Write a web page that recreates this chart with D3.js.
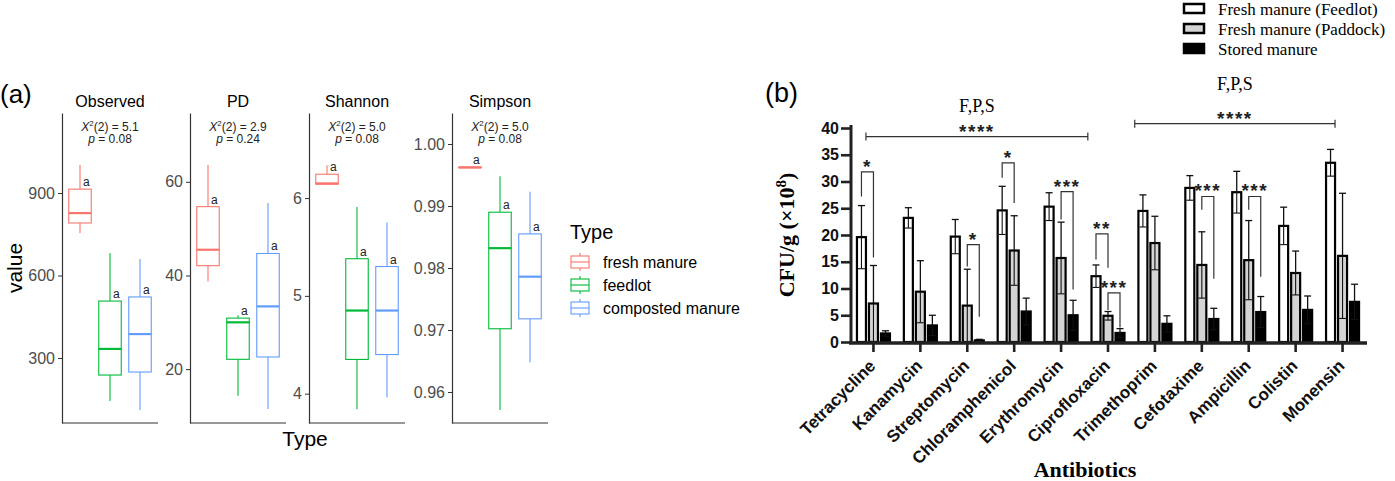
<!DOCTYPE html>
<html>
<head>
<meta charset="utf-8">
<script src="https://cdn.jsdelivr.net/npm/d3@7"></script>
<style>
  body { margin: 0; background: #fff; }
  svg { display: block; }
</style>
</head>
<body>
<div id="chart"></div>
<script>
// ---------- panel (a) data ----------
var types = ["fresh manure", "feedlot", "composted manure"];
var typeColors = ["#F8766D", "#00BA38", "#619CFF"];
var metrics = ["Observed", "PD", "Shannon", "Simpson"];

// [lower whisker, q1, median, q3, upper whisker] for each type
var observedStats = [[755, 791, 827, 914, 1002], [144, 238, 333, 507, 682], [111, 249, 387, 522, 660]];
var pdStats = [[38.7, 42.1, 45.5, 54.7, 63.6], [14.3, 22.1, 30.0, 30.9, 31.5], [11.5, 22.6, 33.4, 44.7, 55.5]];
var shannonStats = [[6.142, 6.142, 6.15, 6.244, 6.336], [3.84, 4.35, 4.85, 5.38, 5.91], [3.96, 4.40, 4.85, 5.30, 5.75]];
var simpsonStats = [[0.9962, 0.9962, 0.9962, 0.9963, 0.9963], [0.9571, 0.9702, 0.9832, 0.9890, 0.9948], [0.9648, 0.9718, 0.9786, 0.9855, 0.9923]];

var chiValues = ["5.1", "2.9", "5.0", "5.0"];
var pValues = ["0.08", "0.24", "0.08", "0.08"];
var groupLetters = ["a", "a", "a"];

var observedTicks = [300, 600, 900];
var pdTicks = [20, 40, 60];
var shannonTicks = [4, 5, 6];
var simpsonTicks = [0.96, 0.97, 0.98, 0.99, 1.00];

// ---------- panel (b) data ----------
var antibiotics = ["Tetracycline", "Kanamycin", "Streptomycin", "Chloramphenicol", "Erythromycin",
  "Ciprofloxacin", "Trimethoprim", "Cefotaxime", "Ampicillin", "Colistin", "Monensin"];
var seriesNames = ["Fresh manure (Feedlot)", "Fresh manure (Paddock)", "Stored manure"];
var seriesFills = ["#ffffff", "#d4d4d4", "#000000"];

var feedlotMean = [19.6, 23.2, 19.7, 24.6, 25.3, 12.3, 24.5, 28.8, 28.0, 21.7, 33.5];
var feedlotSd   = [5.9, 1.9, 3.2, 4.5, 2.6, 2.1, 3.0, 2.3, 3.9, 3.5, 2.5];
var paddockMean = [7.2, 9.4, 6.8, 17.1, 15.7, 4.9, 18.5, 14.4, 15.3, 12.9, 16.1];
var paddockSd   = [7.1, 5.8, 6.8, 6.5, 6.7, 0.8, 5.0, 6.2, 7.4, 4.1, 11.7];
var storedMean  = [1.6, 3.1, 0.3, 5.7, 5.0, 1.7, 3.4, 4.3, 5.6, 6.0, 7.5];
var storedSd    = [0.5, 1.9, 0.2, 2.5, 2.8, 0.8, 1.5, 2.0, 2.9, 2.6, 3.3];

var bTicks = [0, 5, 10, 15, 20, 25, 30, 35, 40];

// pairwise brackets: category, left series, right series, top value, left leg end, right leg end, label
var pairBrackets = [
  ["Tetracycline", 0, 1, 31.8, 27.2, 15.8, "*"],
  ["Streptomycin", 1, 2, 18.2, 14.1, 4.7, "*"],
  ["Chloramphenicol", 0, 1, 33.5, 30.7, 26.0, "*"],
  ["Erythromycin", 1, 2, 28.1, 22.9, 9.8, "***"],
  ["Ciprofloxacin", 0, 1, 20.2, 15.4, 13.9, "**"],
  ["Ciprofloxacin", 1, 2, 9.2, 6.0, 2.7, "***"],
  ["Cefotaxime", 1, 2, 27.2, 24.7, 11.8, "***"],
  ["Ampicillin", 1, 2, 27.2, 24.7, 12.2, "***"]
];
// long brackets over groups of antibiotics
var groupBrackets = [
  ["Tetracycline", "Ciprofloxacin", 38.4, "****", "F,P,S"],
  ["Trimethoprim", "Monensin", 40.8, "****", "F,P,S"]
];

var svg = d3.select("#chart").append("svg")
  .attr("width", 1395)
  .attr("height", 481)
  .style("font-family", "'Liberation Sans', Arial, sans-serif");

// =================== panel (a) ===================
var facetStats = [observedStats, pdStats, shannonStats, simpsonStats];
var facetTicks = [observedTicks, pdTicks, shannonTicks, simpsonTicks];
var facetDomains = [[63.6, 1191], [8.5, 74.7], [3.70, 6.87], [0.955, 1.005]];
var facetLeft = [62, 190, 309, 452];
var facetW = 96, facetTop = 113, facetBottom = 423;

svg.append("text")
  .attr("x", 0).attr("y", 103)
  .style("font-size", "26px")
  .text("(a)");

svg.append("text")
  .attr("transform", "translate(22, 268) rotate(-90)")
  .attr("text-anchor", "middle")
  .style("font-size", "21px")
  .text("value");

svg.append("text")
  .attr("x", 305).attr("y", 446)
  .attr("text-anchor", "middle")
  .style("font-size", "21px")
  .text("Type");

metrics.forEach(function(m, i) {
  var g = svg.append("g").attr("transform", `translate(${facetLeft[i]},0)`);

  var x = d3.scalePoint().domain(types).range([0, facetW]).padding(0.6);
  var y = d3.scaleLinear().domain(facetDomains[i]).range([facetBottom, facetTop]);
  var boxW = x.step() * 0.75;

  var yAxis = d3.axisLeft(y)
    .tickValues(facetTicks[i])
    .tickSize(4)
    .tickSizeOuter(0)
    .tickPadding(3)
    .tickFormat(i == 3 ? d3.format(".2f") : d3.format("d"));

  var ax = g.append("g").call(yAxis);
  ax.select(".domain").attr("stroke", "#333").attr("stroke-width", 1.2);
  ax.selectAll(".tick line").attr("stroke", "#333");
  ax.selectAll(".tick text")
    .attr("fill", "#4d4d4d")
    .style("font-size", "16px")
    .style("font-family", "'Liberation Sans', Arial, sans-serif");

  g.append("line")
    .attr("x1", 0).attr("x2", facetW)
    .attr("y1", facetBottom).attr("y2", facetBottom)
    .attr("stroke", "#333").attr("stroke-width", 1.2);

  // facet title
  g.append("text")
    .attr("x", facetW / 2).attr("y", 107)
    .attr("text-anchor", "middle")
    .style("font-size", "16px")
    .text(m);

  // Kruskal-Wallis annotation
  var t1 = g.append("text")
    .attr("x", facetW / 2).attr("y", 131)
    .attr("text-anchor", "middle")
    .style("font-size", "12px")
    .attr("fill", "#222");
  t1.append("tspan").style("font-style", "italic").text("X");
  t1.append("tspan").attr("dy", -5).style("font-size", "8px").text("2");
  t1.append("tspan").attr("dy", 5).text("(2) = " + chiValues[i]);

  var t2 = g.append("text")
    .attr("x", facetW / 2).attr("y", 143)
    .attr("text-anchor", "middle")
    .style("font-size", "12px")
    .attr("fill", "#222");
  t2.append("tspan").style("font-style", "italic").text("p");
  t2.append("tspan").text(" = " + pValues[i]);

  facetStats[i].forEach(function(s, k) {
    var cx = x(types[k]);
    var col = typeColors[k];
    g.append("line")
      .attr("x1", cx).attr("x2", cx)
      .attr("y1", y(s[0])).attr("y2", y(s[1]))
      .attr("stroke", col).attr("stroke-width", 1.1);
    g.append("line")
      .attr("x1", cx).attr("x2", cx)
      .attr("y1", y(s[3])).attr("y2", y(s[4]))
      .attr("stroke", col).attr("stroke-width", 1.1);
    g.append("rect")
      .attr("x", cx - boxW / 2)
      .attr("y", y(s[3]))
      .attr("width", boxW)
      .attr("height", Math.max(0.5, y(s[1]) - y(s[3])))
      .attr("fill", "#fff")
      .attr("stroke", col).attr("stroke-width", 1.1);
    g.append("line")
      .attr("x1", cx - boxW / 2).attr("x2", cx + boxW / 2)
      .attr("y1", y(s[2])).attr("y2", y(s[2]))
      .attr("stroke", col).attr("stroke-width", 2.2);
    g.append("text")
      .attr("x", cx + 3).attr("y", y(s[3]) - 3)
      .style("font-size", "12px")
      .attr("fill", "#222")
      .text(groupLetters[k]);
  });
});

// legend (a)
var legA = svg.append("g").attr("transform", "translate(570, 0)");
legA.append("text")
  .attr("x", 0).attr("y", 239)
  .style("font-size", "20px")
  .text("Type");
types.forEach(function(t, k) {
  var cy = 262 + k * 23;
  var col = typeColors[k];
  legA.append("line").attr("x1", 10).attr("x2", 10).attr("y1", cy - 9).attr("y2", cy + 9)
    .attr("stroke", col).attr("stroke-width", 1.1);
  legA.append("rect").attr("x", 1).attr("y", cy - 6).attr("width", 18).attr("height", 12)
    .attr("fill", "#fff").attr("stroke", col).attr("stroke-width", 1.1);
  legA.append("line").attr("x1", 1).attr("x2", 19).attr("y1", cy).attr("y2", cy)
    .attr("stroke", col).attr("stroke-width", 1.1);
  legA.append("text")
    .attr("x", 33).attr("y", cy + 6)
    .style("font-size", "16px")
    .text(t);
});

// =================== panel (b) ===================
var serif = "'Liberation Serif', 'Times New Roman', serif";
var seriesMeans = [feedlotMean, paddockMean, storedMean];
var seriesSds = [feedlotSd, paddockSd, storedSd];

var xB = d3.scaleBand().domain(antibiotics).range([850, 1366]).padding(0);
var xSub = d3.scaleBand().domain([0, 1, 2]).range([-18, 18]);
var yB = d3.scaleLinear().domain([0, 40]).range([342, 128]);
var barW = 9;
var cxOf = function(cat, s) { return xB(cat) + xB.bandwidth() / 2 + xSub(s) + xSub.bandwidth() / 2; };

svg.append("text")
  .attr("x", 765).attr("y", 102)
  .style("font-size", "27px")
  .text("(b)");

// bars and error bars
seriesMeans.forEach(function(means, s) {
  var grp = svg.append("g");
  antibiotics.forEach(function(cat, i) {
    var cx = cxOf(cat, s);
    var m = means[i], sd = seriesSds[s][i];
    grp.append("rect")
      .attr("x", cx - barW / 2)
      .attr("y", yB(m))
      .attr("width", barW)
      .attr("height", yB(0) - yB(m))
      .attr("fill", seriesFills[s])
      .attr("stroke", "#000").attr("stroke-width", 2.2);
    // upper error
    grp.append("line").attr("x1", cx).attr("x2", cx)
      .attr("y1", yB(m)).attr("y2", yB(m + sd))
      .attr("stroke", "#111").attr("stroke-width", 1.3);
    grp.append("line").attr("x1", cx - 3.5).attr("x2", cx + 3.5)
      .attr("y1", yB(m + sd)).attr("y2", yB(m + sd))
      .attr("stroke", "#111").attr("stroke-width", 1.3);
    // lower error (inside bar)
    var lo = Math.max(0, m - sd);
    grp.append("line").attr("x1", cx).attr("x2", cx)
      .attr("y1", yB(m)).attr("y2", yB(lo))
      .attr("stroke", "#111").attr("stroke-width", 1.1);
    grp.append("line").attr("x1", cx - 3.5).attr("x2", cx + 3.5)
      .attr("y1", yB(lo)).attr("y2", yB(lo))
      .attr("stroke", "#111").attr("stroke-width", 1.1);
  });
});

// axes
var yAxisB = d3.axisLeft(yB).tickValues(bTicks).tickSize(10).tickSizeOuter(0).tickPadding(2);
var gy = svg.append("g").attr("transform", "translate(851,0)").call(yAxisB);
gy.select(".domain").attr("stroke", "#222").attr("stroke-width", 3)
  .attr("d", "M0," + (yB(40) - 3) + "V" + (yB(0) + 1));
gy.selectAll(".tick line").attr("stroke", "#222").attr("stroke-width", 2.6);
gy.selectAll(".tick text")
  .attr("fill", "#111")
  .style("font-size", "16px")
  .style("font-weight", "bold")
  .style("font-family", "'Liberation Sans', Arial, sans-serif");

var xAxisB = d3.axisBottom(xB).tickSize(9).tickSizeOuter(0).tickFormat("");
var gx = svg.append("g").attr("transform", "translate(0,343)").call(xAxisB);
gx.select(".domain").attr("stroke", "#222").attr("stroke-width", 3.5)
  .attr("d", "M849,0H1367");
gx.selectAll(".tick line").attr("stroke", "#222").attr("stroke-width", 2.6);

svg.append("g").selectAll("text").data(antibiotics).enter()
  .append("text")
  .attr("transform", d => `translate(${xB(d) + xB.bandwidth() / 2 + 3}, 367) rotate(-45)`)
  .attr("text-anchor", "end")
  .style("font-size", "17px")
  .style("font-weight", "bold")
  .attr("fill", "#111")
  .text(d => d);

svg.append("text")
  .attr("x", 1085).attr("y", 477)
  .attr("text-anchor", "middle")
  .style("font-family", serif)
  .style("font-size", "22px")
  .style("font-weight", "bold")
  .text("Antibiotics");

var yl = svg.append("text")
  .attr("transform", "translate(794, 235) rotate(-90)")
  .attr("text-anchor", "middle")
  .style("font-family", serif)
  .style("font-size", "22px")
  .style("font-weight", "bold");
yl.append("tspan").text("CFU/g (\u00d710");
yl.append("tspan").attr("dy", -8).style("font-size", "15px").text("8");
yl.append("tspan").attr("dy", 8).text(")");

// pairwise brackets
pairBrackets.forEach(function(b) {
  var x1 = cxOf(b[0], b[1]), x2 = cxOf(b[0], b[2]);
  var yt = yB(b[3]);
  svg.append("path")
    .attr("d", `M${x1},${yB(b[4])}V${yt}H${x2}V${yB(b[5])}`)
    .attr("fill", "none")
    .attr("stroke", "#333").attr("stroke-width", 1.2);
  svg.append("text")
    .attr("x", (x1 + x2) / 2).attr("y", yt + 1)
    .attr("text-anchor", "middle")
    .style("font-size", "19px")
    .style("font-weight", "bold")
    .style("letter-spacing", "1.5px")
    .attr("fill", "#222")
    .text(b[6]);
});

// long group brackets
var fpsGap = [25, 34];
groupBrackets.forEach(function(b, i) {
  var x1 = xB(b[0]) + xB.bandwidth() * (i == 0 ? 0.34 : 0.07);
  var x2 = xB(b[1]) + xB.bandwidth() * (i == 0 ? 0.07 : 0.34);
  var yl2 = yB(b[2]);
  svg.append("path")
    .attr("d", `M${x1},${yl2 - 4}V${yl2 + 4}M${x1},${yl2}H${x2}M${x2},${yl2 - 4}V${yl2 + 4}`)
    .attr("fill", "none")
    .attr("stroke", "#333").attr("stroke-width", 1.2);
  svg.append("text")
    .attr("x", (x1 + x2) / 2).attr("y", yl2 + 1)
    .attr("text-anchor", "middle")
    .style("font-size", "19px")
    .style("font-weight", "bold")
    .style("letter-spacing", "1.5px")
    .attr("fill", "#222")
    .text(b[3]);
  svg.append("text")
    .attr("x", (x1 + x2) / 2).attr("y", yl2 - fpsGap[i])
    .attr("text-anchor", "middle")
    .style("font-family", serif)
    .style("font-size", "18px")
    .text(b[4]);
});

// legend (b)
seriesNames.forEach(function(name, s) {
  var base = 15 + s * 20;
  svg.append("rect")
    .attr("x", 1184).attr("y", base - 11)
    .attr("width", 20).attr("height", 9)
    .attr("fill", seriesFills[s])
    .attr("stroke", "#000").attr("stroke-width", 2.5);
  svg.append("text")
    .attr("x", 1218).attr("y", base)
    .style("font-family", serif)
    .style("font-size", "17px")
    .text(name);
});
</script>
</body>
</html>
